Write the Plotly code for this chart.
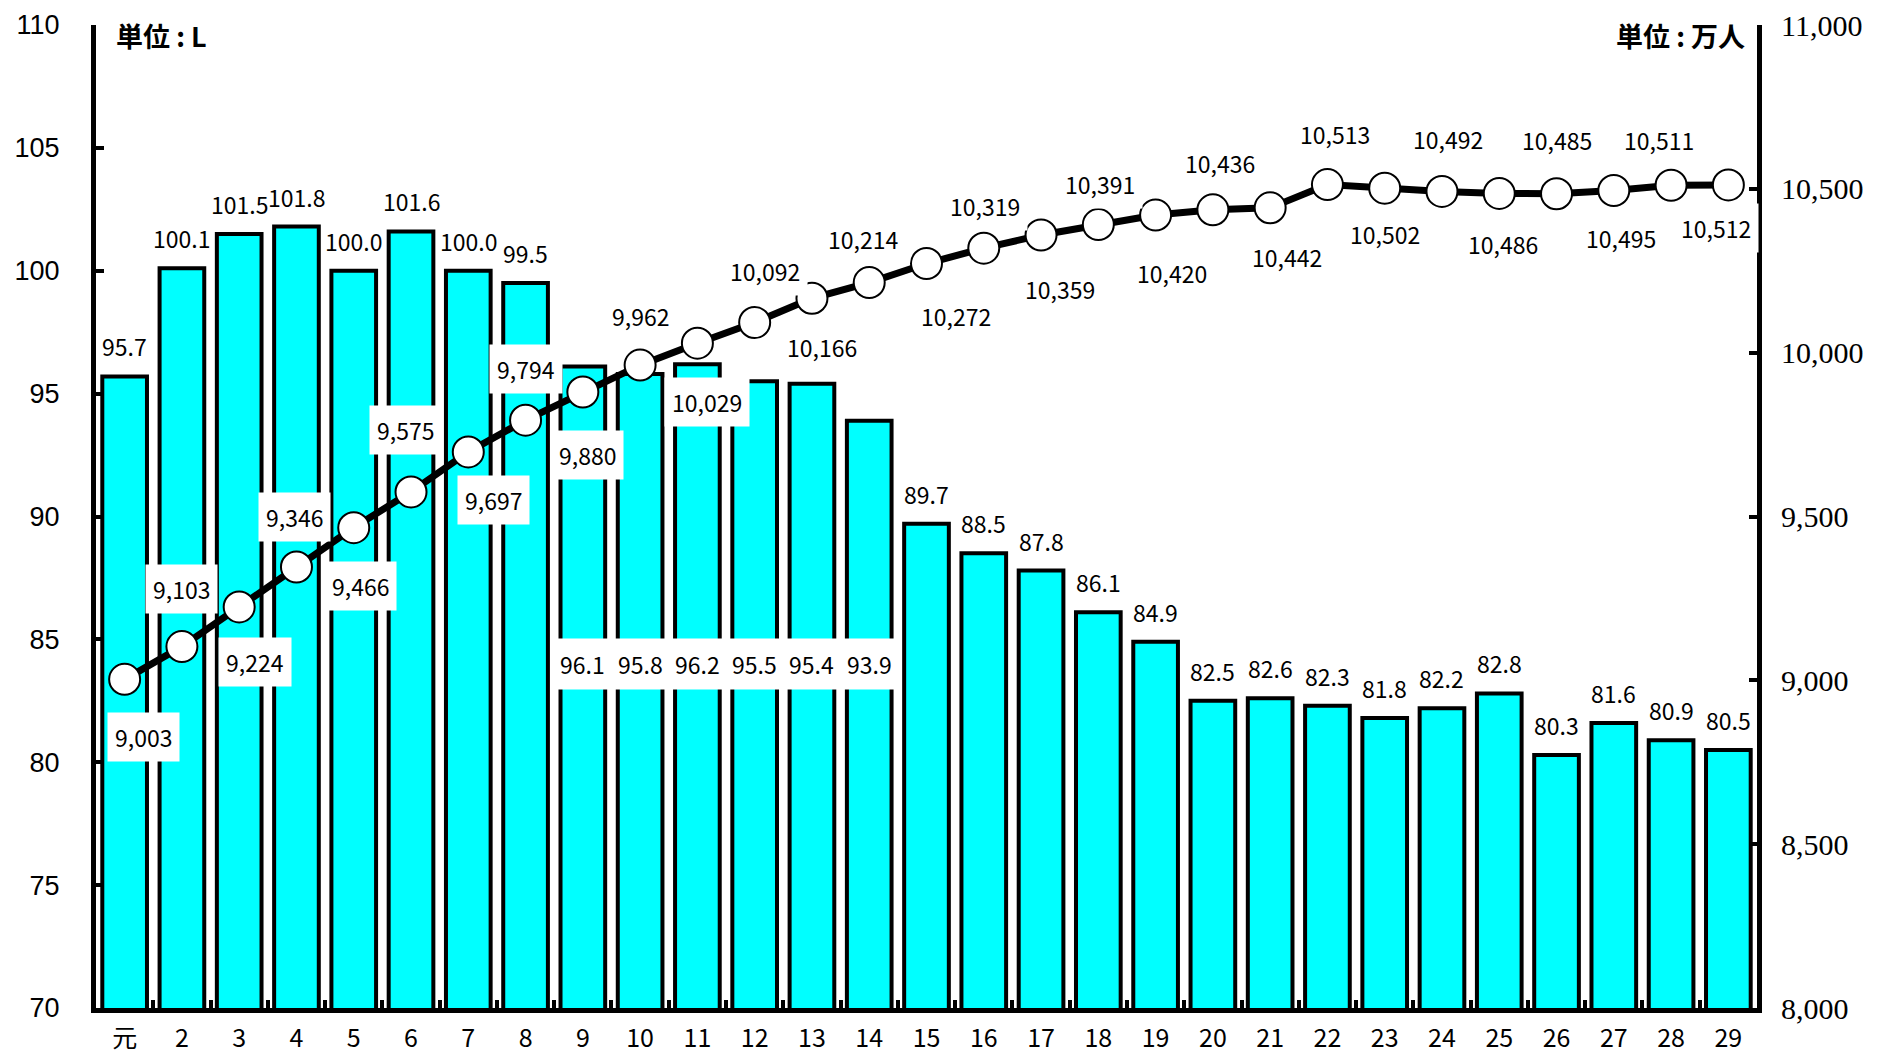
import plotly.graph_objects as go

categories = ["元"] + [str(i) for i in range(2, 30)]
consumption = [95.7, 100.1, 101.5, 101.8, 100.0, 101.6, 100.0, 99.5, 96.1, 95.8,
               96.2, 95.5, 95.4, 93.9, 89.7, 88.5, 87.8, 86.1, 84.9, 82.5,
               82.6, 82.3, 81.8, 82.2, 82.8, 80.3, 81.6, 80.9, 80.5]
population = [9003, 9103, 9224, 9346, 9466, 9575, 9697, 9794, 9880, 9962,
              10029, 10092, 10166, 10214, 10272, 10319, 10359, 10391, 10420, 10436,
              10442, 10513, 10502, 10492, 10486, 10485, 10495, 10511, 10512]
left_ticks = [70, 75, 80, 85, 90, 95, 100, 105, 110]
right_ticks = [8000, 8500, 9000, 9500, 10000, 10500, 11000]

# label placement styles (pixels)
pop_dx = [16, 0, 13, -2, 6, -5, 21, 0, 4, 0, 8, 9, 8, -5, 25, 1, 16, 1, 14, 6, 14, 6, 0, 5, 3, 0, 6, -10, -10]
pop_dy = [48, -48, 46, -42, 49, -52, 40, -43, 53, -41, 49, -43, 41, -36, 44, -35, 45, -34, 48, -39, 41, -42, 38, -44, 42, -45, 40, -38, 36]
inside_label_idx = [8, 9, 10, 11, 12, 13]

S = 1.197
FONT = "Noto Sans CJK JP"

fig = go.Figure()
fig.add_trace(go.Bar(
    x=categories, y=consumption, width=0.78,
    marker=dict(color="#00FFFF", line=dict(color="black", width=4)),
    yaxis="y", showlegend=False, hoverinfo="skip"))
fig.add_trace(go.Scatter(
    x=categories, y=population, yaxis="y2", mode="lines+markers",
    line=dict(color="black", width=7),
    marker=dict(size=31, color="white", line=dict(color="black", width=2)),
    showlegend=False, hoverinfo="skip", cliponaxis=False))

ann = []
for i, v in enumerate(consumption):
    if i in inside_label_idx:
        ann.append(dict(x=i, y=84.0, xref="x", yref="y", text=f"{v:.1f}", showarrow=False,
                        font=dict(family=FONT, size=23, color="black"),
                        bgcolor="white", borderpad=8))
    else:
        ann.append(dict(x=i, y=v, xref="x", yref="y", text=f"{v:.1f}", showarrow=False,
                        yanchor="bottom", yshift=11,
                        font=dict(family=FONT, size=23, color="black")))
for i, p in enumerate(population):
    ann.append(dict(x=i, y=p, xref="x", yref="y2", text=f"{p:,}", showarrow=False,
                    xshift=pop_dx[i] * S, yshift=-pop_dy[i] * S,
                    font=dict(family=FONT, size=23, color="black"),
                    bgcolor="white", borderpad=7))
ann.append(dict(x=0, y=1, xref="paper", yref="paper", text="<b>単位 : L</b>", showarrow=False,
                xanchor="left", yanchor="top", xshift=18, yshift=11,
                font=dict(family=FONT, size=27, color="black")))
ann.append(dict(x=1, y=1, xref="paper", yref="paper", text="<b>単位 : 万人</b>", showarrow=False,
                xanchor="right", yanchor="top", xshift=-10, yshift=11,
                font=dict(family=FONT, size=27, color="black")))

fig.update_layout(
    width=1861, height=1048,
    margin=dict(l=88, r=112, t=17, b=48, autoexpand=False),
    plot_bgcolor="white", paper_bgcolor="white",
    annotations=ann,
    xaxis=dict(type="category", range=[-0.5, 28.5], showline=True, linecolor="black", linewidth=5,
               ticks="inside", tickson="boundaries", ticklen=8, tickwidth=4, tickcolor="black",
               tickfont=dict(family=FONT, size=25, color="black"), showgrid=False,
               ticklabelstandoff=4, ticklabeloverflow="allow", automargin=False),
    yaxis=dict(range=[70, 110], tickvals=left_ticks, showline=True, linecolor="black", linewidth=5,
               ticks="inside", ticklen=8, tickwidth=4, tickcolor="black", showgrid=False, zeroline=False,
               tickfont=dict(family="Liberation Sans", size=27, color="black"),
               ticklabelstandoff=26, ticklabeloverflow="allow", automargin=False),
    yaxis2=dict(range=[8000, 11000], tickvals=right_ticks, overlaying="y", side="right",
                showline=True, linecolor="black", linewidth=5,
                ticks="inside", ticklen=8, tickwidth=4, tickcolor="black", showgrid=False, zeroline=False,
                tickformat=",d",
                tickfont=dict(family="Liberation Serif", size=30, color="black"),
                ticklabelstandoff=13, ticklabeloverflow="allow", automargin=False),
)

fig.write_html("out.html")
